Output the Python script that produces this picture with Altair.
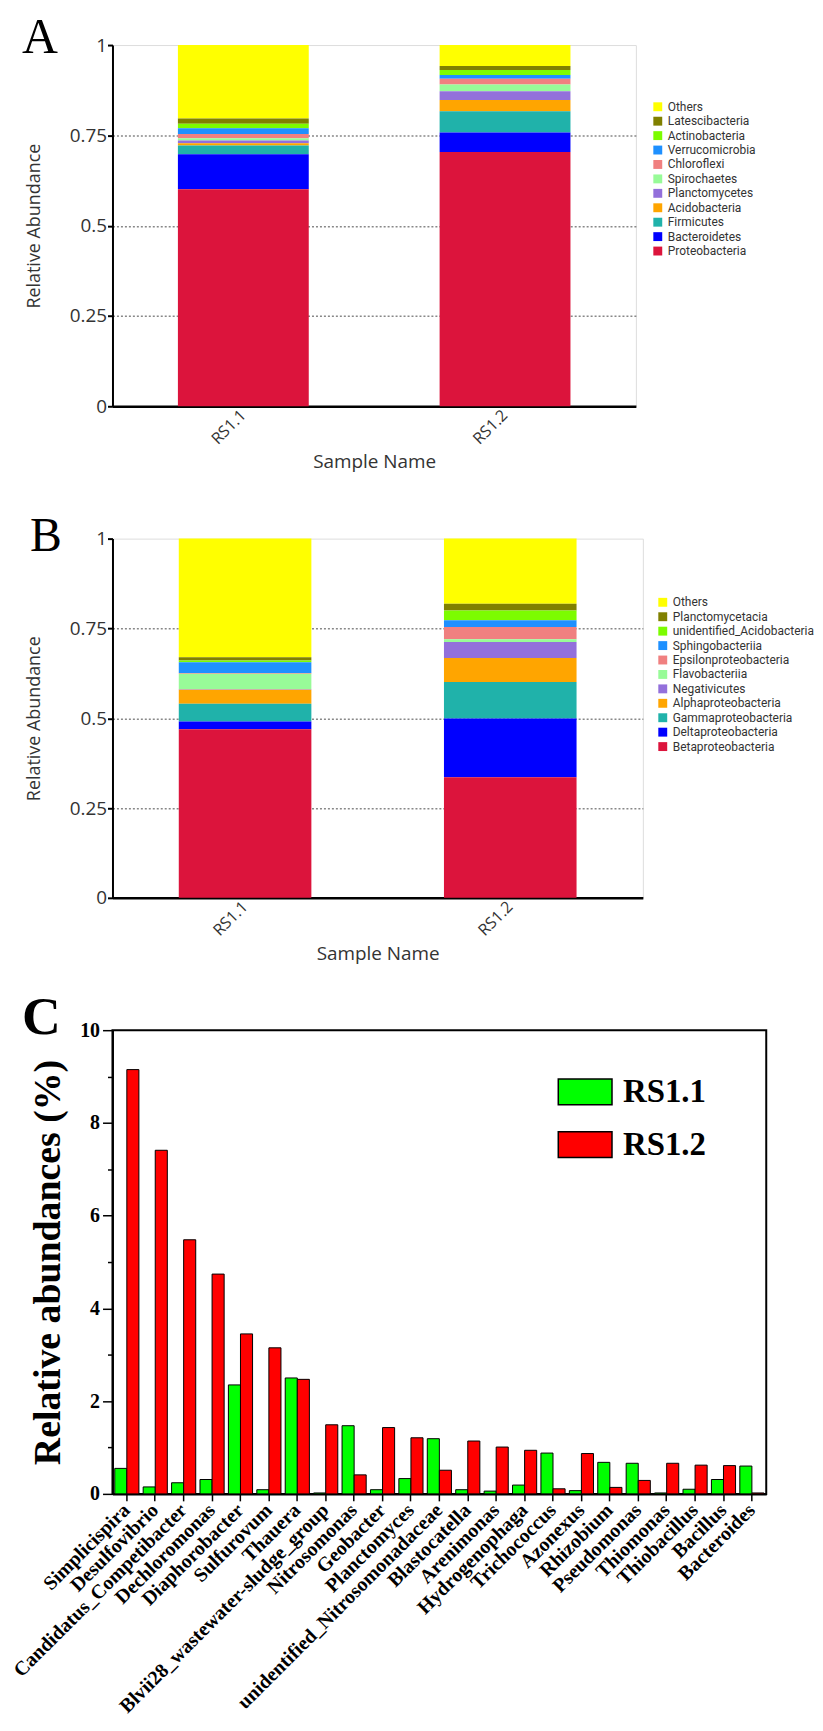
import altair as alt
import pandas as pd

samples = ["RS1.1", "RS1.2"]
panel_letters = ["A", "B", "C"]

# Panel A - phylum level (legend order, top to bottom)
phyla = ["Others", "Latescibacteria", "Actinobacteria", "Verrucomicrobia", "Chloroflexi",
         "Spirochaetes", "Planctomycetes", "Acidobacteria", "Firmicutes", "Bacteroidetes",
         "Proteobacteria"]
phyla_rs11 = [0.203, 0.015, 0.012, 0.016, 0.012, 0.006, 0.008, 0.006, 0.024, 0.097, 0.601]
phyla_rs12 = [0.058, 0.011, 0.014, 0.010, 0.016, 0.019, 0.024, 0.031, 0.059, 0.054, 0.704]

# Panel B - class level
classes = ["Others", "Planctomycetacia", "unidentified_Acidobacteria", "Sphingobacteriia",
           "Epsilonproteobacteria", "Flavobacteriia", "Negativicutes", "Alphaproteobacteria",
           "Gammaproteobacteria", "Deltaproteobacteria", "Betaproteobacteria"]
classes_rs11 = [0.330, 0.009, 0.005, 0.030, 0.002, 0.043, 0.002, 0.039, 0.049, 0.022, 0.469]
classes_rs12 = [0.181, 0.019, 0.027, 0.019, 0.034, 0.008, 0.044, 0.067, 0.102, 0.163, 0.336]

stack_colors = ["#FFFF00", "#808000", "#7CFC00", "#1E90FF", "#F08080", "#98FB98",
                "#9370DB", "#FFA500", "#20B2AA", "#0000FF", "#DC143C"]

# Panel C - genus level (%)
genera = ["Simplicispira", "Desulfovibrio", "Candidatus_Competibacter", "Dechloromonas",
          "Diaphorobacter", "Sulfurovum", "Thauera", "Blvii28_wastewater-sludge_group",
          "Nitrosomonas", "Geobacter", "Planctomyces", "unidentified_Nitrosomonadaceae",
          "Blastocatella", "Arenimonas", "Hydrogenophaga", "Trichococcus", "Azonexus",
          "Rhizobium", "Pseudomonas", "Thiomonas", "Thiobacillus", "Bacillus", "Bacteroides"]
genus_rs11 = [0.55, 0.15, 0.24, 0.31, 2.35, 0.09, 2.50, 0.02, 1.47, 0.09, 0.33, 1.19,
              0.09, 0.06, 0.19, 0.88, 0.07, 0.68, 0.66, 0.02, 0.10, 0.31, 0.60]
genus_rs12 = [9.15, 7.41, 5.48, 4.74, 3.45, 3.15, 2.47, 1.49, 0.41, 1.43, 1.21, 0.51,
              1.14, 1.01, 0.94, 0.11, 0.87, 0.14, 0.29, 0.66, 0.62, 0.61, 0.02]
genus_colors = ["#00FF00", "#FF0000"]

SANS = "Open Sans"
LEG = "Roboto"
SERIF = "Liberation Serif"
TXT = "#333333"


def stacked_panel(names, v1, v2, letter, width, height, letter_x, letter_y, letter_size,
                  legend_dx, legend_y):
    rows = []
    n = len(names)
    for s, vals in zip(samples, [v1, v2]):
        for i, (nm, v) in enumerate(zip(names, vals)):
            rows.append({"sample": s, "taxon": nm, "value": v, "rank": n - 1 - i})
    df = pd.DataFrame(rows)
    bars = alt.Chart(df).mark_bar().encode(
        x=alt.X("sample:N", sort=samples,
                scale=alt.Scale(paddingInner=0.5, paddingOuter=0.25),
                axis=alt.Axis(title="Sample Name", labelAngle=-45, labelAlign="right",
                              labelBaseline="middle", labelFont=SANS, labelFontSize=16,
                              labelColor=TXT, labelPadding=6, ticks=False,
                              domainColor="black", domainWidth=2.5,
                              titleFont=SANS, titleFontSize=19, titleFontWeight="normal",
                              titleColor=TXT, titlePadding=6)),
        y=alt.Y("value:Q", stack="zero",
                scale=alt.Scale(domain=[0, 1], nice=False),
                axis=alt.Axis(title="Relative Abundance", values=[0, 0.25, 0.5, 0.75, 1],
                              labelExpr="'' + datum.value", labelFont=SANS, labelFontSize=19,
                              labelColor=TXT, labelPadding=1, tickSize=5, tickColor="black",
                              tickWidth=2, domainColor="black", domainWidth=2,
                              grid=True, gridDash=[2, 2], gridColor="#888888", gridWidth=1.5,
                              gridOpacity={"condition": {"test": "datum.value === 1 || datum.value === 0",
                                                         "value": 0}, "value": 1},
                              titleFont=SANS, titleFontSize=18, titleFontWeight="normal",
                              titleColor=TXT, titlePadding=26)),
        color=alt.Color("taxon:N", scale=alt.Scale(domain=names, range=stack_colors),
                        legend=alt.Legend(title=None, orient="none", legendX=width + legend_dx,
                                          legendY=legend_y, symbolType="square",
                                          symbolSize=80, symbolStrokeWidth=0,
                                          labelFont=LEG, labelFontSize=12, labelColor=TXT,
                                          rowPadding=2.5, labelOffset=4, labelLimit=0)),
        order=alt.Order("rank:Q", sort="ascending"),
    )
    lab = alt.Chart(pd.DataFrame({"t": [letter]})).mark_text(
        font=SERIF, fontSize=letter_size, align="left", baseline="alphabetic", color="black"
    ).encode(text="t:N", x=alt.value(letter_x), y=alt.value(letter_y))
    return alt.layer(bars, lab).properties(width=width, height=height)


chart_a = stacked_panel(phyla, phyla_rs11, phyla_rs12, panel_letters[0], 526, 363,
                        -91, 8, 50, 16, 56)
chart_b = stacked_panel(classes, classes_rs11, classes_rs12, panel_letters[1], 533, 361,
                        -83, 12, 48, 14, 58)

rows_c = []
for g, a, b in zip(genera, genus_rs11, genus_rs12):
    rows_c.append({"genus": g, "sample": samples[0], "value": a})
    rows_c.append({"genus": g, "sample": samples[1], "value": b})
df_c = pd.DataFrame(rows_c)

bars_c = alt.Chart(df_c).mark_bar(stroke="black", strokeWidth=1).encode(
    x=alt.X("genus:N", sort=genera,
            scale=alt.Scale(paddingInner=0.15, paddingOuter=0.08),
            axis=alt.Axis(title=None, labelAngle=-45, labelAlign="right", labelBaseline="middle",
                          labelFont=SERIF, labelFontWeight="bold", labelFontSize=20,
                          labelColor="black", labelPadding=6, labelLimit=0, tickSize=7,
                          tickColor="black", tickWidth=1.5, domainColor="black",
                          domainWidth=2.5)),
    xOffset=alt.XOffset("sample:N", sort=samples,
                        scale=alt.Scale(paddingInner=0, paddingOuter=0)),
    y=alt.Y("value:Q", scale=alt.Scale(domain=[0, 10], nice=False),
            axis=alt.Axis(title="Relative abundances (%)", values=[0, 2, 4, 6, 8, 10],
                          labelFont=SERIF, labelFontWeight="bold", labelFontSize=20,
                          labelColor="black", labelPadding=3, tickSize=10, tickColor="black",
                          tickWidth=1.5, domainColor="black", domainWidth=2, grid=False,
                          titleFont=SERIF, titleFontWeight="bold", titleFontSize=38,
                          titleColor="black", titlePadding=12)),
    color=alt.Color("sample:N", scale=alt.Scale(domain=samples, range=genus_colors),
                    legend=alt.Legend(title=None, orient="none", legendX=447, legendY=34,
                                      symbolType="M-1,-0.48H1V0.48H-1Z", symbolSize=2916,
                                      symbolStrokeColor="black", symbolStrokeWidth=1.5,
                                      labelFont=SERIF, labelFontWeight="bold", labelFontSize=33,
                                      labelColor="black", rowPadding=8, labelOffset=10)),
)

minor_c = alt.Chart(df_c).mark_point(opacity=0).encode(
    x=alt.X("genus:N", sort=genera),
    y=alt.Y("value:Q", scale=alt.Scale(domain=[0, 10], nice=False),
            axis=alt.Axis(orient="left", title=None, values=[1, 3, 5, 7, 9], labels=False,
                          domain=False, tickSize=5, tickColor="black", tickWidth=1.5,
                          grid=False)),
)

lab_c = alt.Chart(pd.DataFrame({"t": [panel_letters[2]]})).mark_text(
    font=SERIF, fontSize=54, fontWeight="bold", align="left", baseline="alphabetic", color="black"
).encode(text="t:N", x=alt.value(-91), y=alt.value(4))

chart_c = alt.layer(bars_c, minor_c, lab_c).resolve_axis(y="independent").properties(
    width=657, height=466,
    view=alt.ViewBackground(stroke="black", strokeWidth=2),
)

chart = alt.vconcat(chart_a, chart_b, chart_c, spacing=133, bounds="flush").resolve_scale(
    color="independent"
).properties(
    padding={"left": 0, "top": 0, "right": 0, "bottom": 0}
).configure_view(stroke="transparent").configure(background="white")

chart.save("out.html", embed_options={"renderer": "svg", "actions": False})
